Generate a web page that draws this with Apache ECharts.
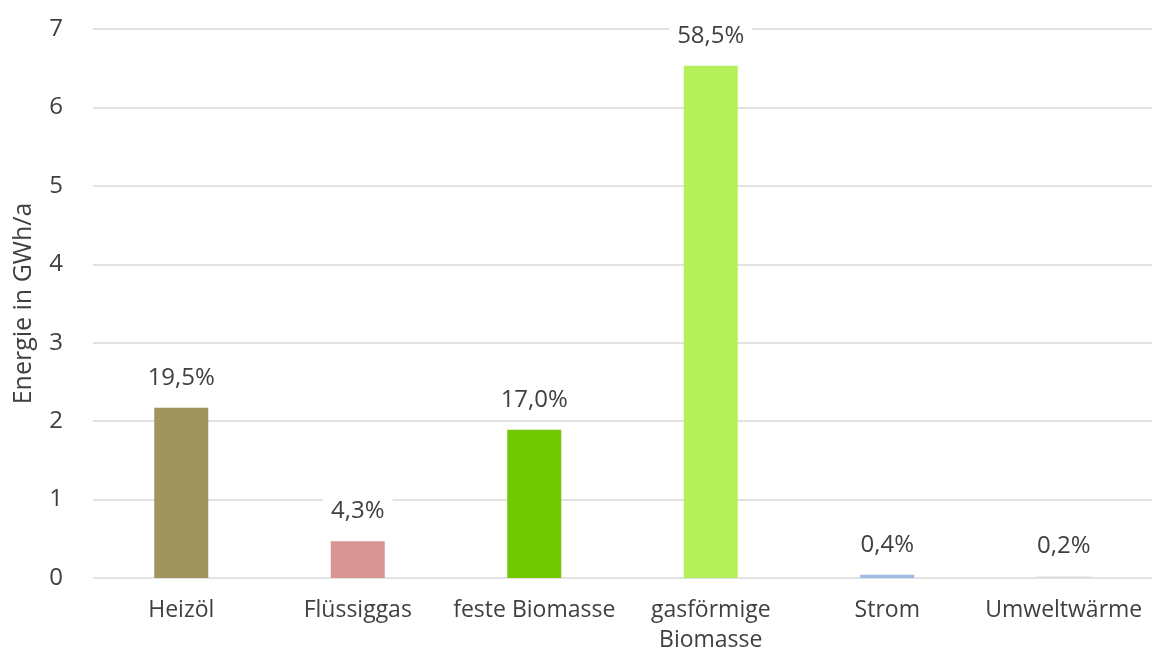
<!DOCTYPE html>
<html>
<head>
<meta charset="utf-8">
<script src="https://cdn.jsdelivr.net/npm/echarts@6/dist/echarts.min.js"></script>
<style>
	html, body { margin: 0; padding: 0; background: #fff; }
	#chart { width: 1152px; height: 654px; }
</style>
</head>
<body>
<div id="chart"></div>
<script>
	// Energieträger und Werte (GWh/a)
	const categories = ["Heizöl", "Flüssiggas", "feste Biomasse", "gasförmige\nBiomasse", "Strom", "Umweltwärme"];
	const values = [2.17, 0.47, 1.89, 6.53, 0.04, 0.02];
	const shares = ["19,5%", "4,3%", "17,0%", "58,5%", "0,4%", "0,2%"];
	const colors = ["#a0945e", "#d99594", "#72c800", "#b5ef5a", "#9dbbe0", "#dcdcdc"];
	const yTicks = [0, 1, 2, 3, 4, 5, 6, 7];

	const chart = echarts.init(document.getElementById("chart"));
	const font = "Open Sans";
	const textColor = "#404040";

	const option = {
		animation: false,
		grid: { left: 93, right: 0, top: 29, bottom: 76, outerBoundsMode: "none" },
		xAxis: {
			type: "category",
			data: categories,
			axisLine: { show: false },
			axisTick: { show: false },
			axisLabel: {
				color: textColor,
				fontFamily: font,
				fontSize: 23,
				margin: 17,
				lineHeight: 30,
				interval: 0,
			},
		},
		yAxis: {
			type: "value",
			min: yTicks[0],
			max: yTicks[yTicks.length - 1],
			interval: 1,
			name: "Energie in GWh/a",
			nameLocation: "middle",
			nameGap: 57,
			nameTextStyle: { color: textColor, fontFamily: font, fontSize: 25 },
			axisLabel: { color: textColor, fontFamily: font, fontSize: 24, margin: 30 },
			splitLine: { lineStyle: { color: "#d9d9d9", width: 1.5 } },
		},
		series: [{
			type: "bar",
			barWidth: 54,
			data: values.map((v, i) => ({ value: v, itemStyle: { color: colors[i] } })),
			label: {
				show: true,
				position: "top",
				distance: 16,
				color: textColor,
				fontFamily: font,
				fontSize: 24,
				backgroundColor: "#fff",
				padding: [2, 8],
				formatter: (p) => shares[p.dataIndex],
			},
		}],
	};

	chart.setOption(option);
</script>
</body>
</html>
